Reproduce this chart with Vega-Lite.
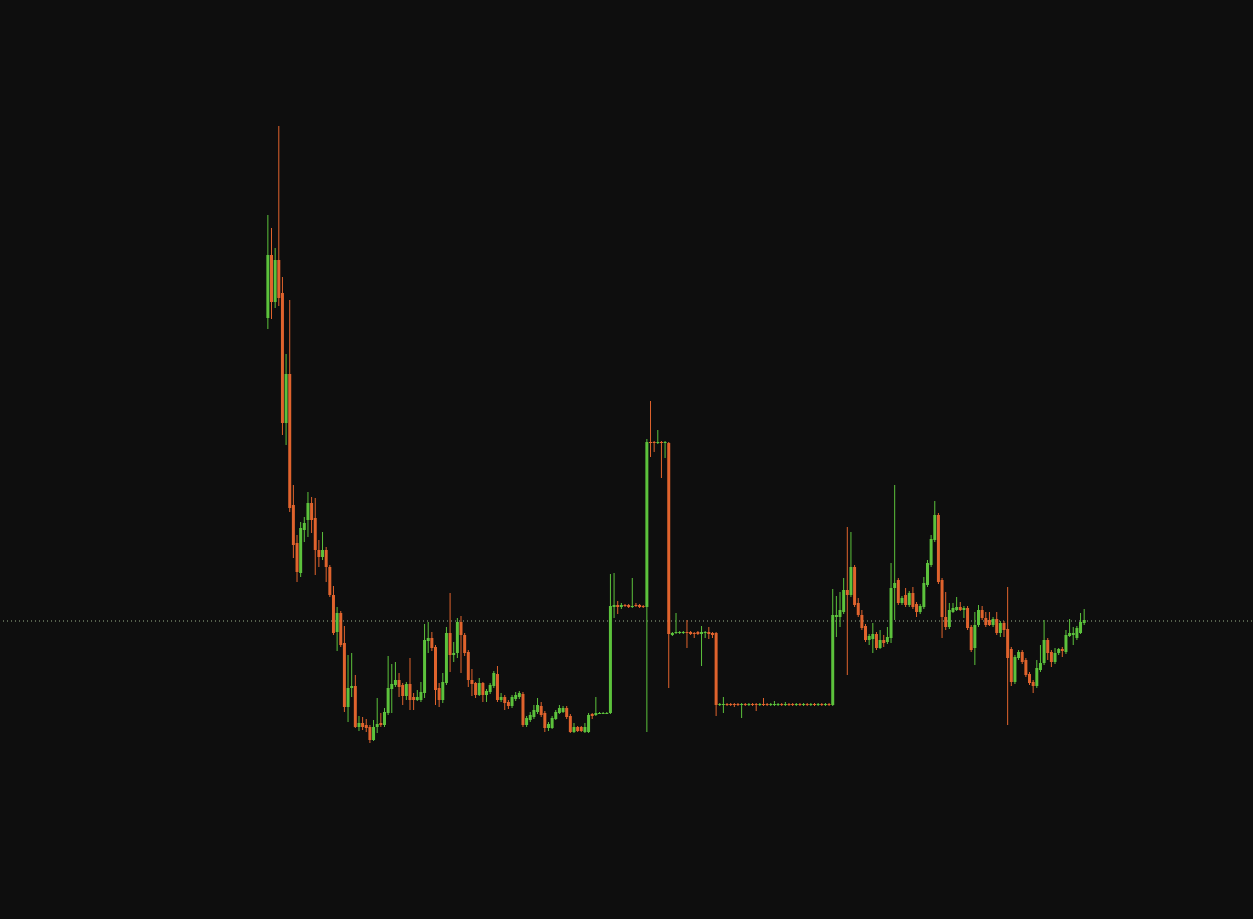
{
"$schema": "https://vega.github.io/schema/vega-lite/v6.json",
"width": 1253, "height": 919,
"autosize": {"type": "fit", "contains": "padding"},
"padding": 0,
"background": "#0e0e0e",
"config": {"view": {"stroke": null}, "scale": {"continuousPadding": 0}},
"datasets": {"candles": [
{"i":0,"o":60.1,"c":66.4,"h":70.4,"l":59.0},
{"i":1,"o":66.4,"c":61.7,"h":69.1,"l":60.0},
{"i":2,"o":61.7,"c":65.9,"h":67.1,"l":61.1},
{"i":3,"o":65.9,"c":62.1,"h":79.3,"l":61.3},
{"i":4,"o":62.6,"c":49.6,"h":64.2,"l":48.4},
{"i":5,"o":49.6,"c":54.5,"h":56.5,"l":47.4},
{"i":6,"o":54.5,"c":41.1,"h":61.9,"l":40.7},
{"i":7,"o":41.4,"c":37.4,"h":43.4,"l":36.1},
{"i":8,"o":37.6,"c":34.7,"h":38.4,"l":33.7},
{"i":9,"o":34.6,"c":39.1,"h":39.7,"l":34.2},
{"i":10,"o":38.9,"c":39.6,"h":40.2,"l":37.7},
{"i":11,"o":39.9,"c":41.6,"h":42.7,"l":38.2},
{"i":12,"o":41.6,"c":39.9,"h":42.2,"l":38.6},
{"i":13,"o":40.1,"c":36.9,"h":42.1,"l":34.4},
{"i":14,"o":36.9,"c":36.2,"h":37.9,"l":35.2},
{"i":15,"o":36.2,"c":36.9,"h":38.7,"l":35.9},
{"i":16,"o":36.9,"c":35.2,"h":37.2,"l":33.7},
{"i":17,"o":35.2,"c":32.4,"h":35.4,"l":32.2},
{"i":18,"o":32.4,"c":28.6,"h":33.3,"l":28.4},
{"i":19,"o":28.7,"c":30.6,"h":31.2,"l":26.8},
{"i":20,"o":30.6,"c":27.4,"h":30.8,"l":27.2},
{"i":21,"o":27.6,"c":21.2,"h":29.3,"l":20.7},
{"i":22,"o":21.2,"c":23.1,"h":26.4,"l":19.7},
{"i":23,"o":23.1,"c":23.3,"h":26.6,"l":22.2},
{"i":24,"o":23.3,"c":19.2,"h":24.4,"l":19.1},
{"i":25,"o":19.2,"c":19.6,"h":20.3,"l":18.8},
{"i":26,"o":19.6,"c":19.2,"h":20.2,"l":18.9},
{"i":27,"o":19.4,"c":19.1,"h":20.0,"l":18.7},
{"i":28,"o":19.2,"c":17.9,"h":19.4,"l":17.6},
{"i":29,"o":17.9,"c":19.2,"h":19.9,"l":17.8},
{"i":30,"o":19.2,"c":19.5,"h":22.1,"l":18.6},
{"i":31,"o":19.6,"c":19.4,"h":20.6,"l":19.2},
{"i":32,"o":19.4,"c":20.7,"h":21.1,"l":19.2},
{"i":33,"o":20.6,"c":23.1,"h":26.3,"l":20.4},
{"i":34,"o":23.0,"c":23.5,"h":25.5,"l":20.6},
{"i":35,"o":23.4,"c":23.9,"h":25.7,"l":23.2},
{"i":36,"o":23.9,"c":23.2,"h":24.6,"l":22.2},
{"i":37,"o":23.4,"c":22.3,"h":23.6,"l":21.4},
{"i":38,"o":22.3,"c":23.5,"h":23.7,"l":21.9},
{"i":39,"o":23.5,"c":21.9,"h":26.1,"l":20.9},
{"i":40,"o":22.2,"c":21.9,"h":22.6,"l":20.9},
{"i":41,"o":21.9,"c":22.2,"h":22.9,"l":21.8},
{"i":42,"o":21.9,"c":22.7,"h":23.7,"l":21.7},
{"i":43,"o":22.6,"c":27.9,"h":29.5,"l":22.1},
{"i":44,"o":27.8,"c":28.1,"h":29.7,"l":26.6},
{"i":45,"o":28.1,"c":27.1,"h":28.7,"l":26.8},
{"i":46,"o":27.2,"c":22.9,"h":27.4,"l":21.4},
{"i":47,"o":23.1,"c":21.9,"h":23.6,"l":21.2},
{"i":48,"o":21.9,"c":23.7,"h":24.6,"l":21.6},
{"i":49,"o":23.6,"c":28.6,"h":29.2,"l":23.4},
{"i":50,"o":28.6,"c":26.4,"h":32.6,"l":24.7},
{"i":51,"o":26.4,"c":26.6,"h":27.7,"l":25.7},
{"i":52,"o":26.6,"c":29.7,"h":30.1,"l":26.1},
{"i":53,"o":29.7,"c":28.4,"h":30.3,"l":24.6},
{"i":54,"o":28.4,"c":26.6,"h":28.6,"l":26.3},
{"i":55,"o":26.7,"c":23.9,"h":26.9,"l":23.2},
{"i":56,"o":23.9,"c":23.5,"h":25.0,"l":22.3},
{"i":57,"o":23.6,"c":22.4,"h":23.7,"l":22.1},
{"i":58,"o":22.4,"c":23.6,"h":24.1,"l":22.3},
{"i":59,"o":23.6,"c":22.4,"h":23.7,"l":21.7},
{"i":60,"o":22.4,"c":22.8,"h":23.0,"l":21.7},
{"i":61,"o":22.7,"c":23.4,"h":23.6,"l":22.5},
{"i":62,"o":23.3,"c":24.6,"h":24.8,"l":23.1},
{"i":63,"o":24.5,"c":21.9,"h":25.3,"l":21.7},
{"i":64,"o":21.9,"c":22.2,"h":22.6,"l":21.7},
{"i":65,"o":22.2,"c":21.6,"h":22.4,"l":20.9},
{"i":66,"o":21.7,"c":21.3,"h":21.9,"l":21.0},
{"i":67,"o":21.3,"c":22.2,"h":22.4,"l":21.1},
{"i":68,"o":22.0,"c":22.4,"h":22.7,"l":21.8},
{"i":69,"o":22.2,"c":22.6,"h":22.8,"l":22.0},
{"i":70,"o":22.5,"c":19.4,"h":22.7,"l":19.2},
{"i":71,"o":19.4,"c":20.1,"h":20.3,"l":19.2},
{"i":72,"o":19.9,"c":20.4,"h":20.7,"l":19.7},
{"i":73,"o":20.2,"c":20.9,"h":21.4,"l":20.0},
{"i":74,"o":20.7,"c":21.4,"h":22.1,"l":20.5},
{"i":75,"o":21.3,"c":20.4,"h":21.7,"l":20.2},
{"i":76,"o":20.6,"c":19.1,"h":20.8,"l":18.7},
{"i":77,"o":19.1,"c":19.5,"h":19.7,"l":18.8},
{"i":78,"o":19.1,"c":20.1,"h":20.3,"l":19.0},
{"i":79,"o":20.0,"c":20.7,"h":20.9,"l":19.9},
{"i":80,"o":20.6,"c":21.1,"h":21.4,"l":20.5},
{"i":81,"o":20.7,"c":21.1,"h":21.3,"l":20.6},
{"i":82,"o":21.1,"c":20.2,"h":21.3,"l":20.0},
{"i":83,"o":20.3,"c":18.7,"h":20.5,"l":18.6},
{"i":84,"o":18.7,"c":19.2,"h":19.6,"l":18.6},
{"i":85,"o":19.2,"c":18.8,"h":19.3,"l":18.7},
{"i":86,"o":19.2,"c":18.8,"h":19.3,"l":18.7},
{"i":87,"o":18.7,"c":19.2,"h":19.6,"l":18.6},
{"i":88,"o":18.7,"c":20.4,"h":20.6,"l":18.6},
{"i":89,"o":20.5,"c":20.3,"h":20.6,"l":20.0},
{"i":90,"o":20.4,"c":20.6,"h":22.2,"l":20.3},
{"i":91,"o":20.5,"c":20.6,"h":20.7,"l":20.5},
{"i":92,"o":20.5,"c":20.6,"h":20.7,"l":20.5},
{"i":93,"o":20.5,"c":20.6,"h":20.7,"l":20.5},
{"i":94,"o":20.6,"c":31.3,"h":34.5,"l":20.5},
{"i":95,"o":31.2,"c":31.4,"h":34.6,"l":30.1},
{"i":96,"o":31.4,"c":31.2,"h":31.8,"l":30.5},
{"i":97,"o":31.2,"c":31.4,"h":31.6,"l":31.0},
{"i":98,"o":31.4,"c":31.3,"h":31.5,"l":31.2},
{"i":99,"o":31.4,"c":31.2,"h":31.5,"l":31.1},
{"i":100,"o":31.2,"c":31.3,"h":34.1,"l":31.1},
{"i":101,"o":31.4,"c":31.3,"h":31.6,"l":31.2},
{"i":102,"o":31.4,"c":31.2,"h":31.5,"l":31.1},
{"i":103,"o":31.3,"c":31.2,"h":31.4,"l":31.1},
{"i":104,"o":31.2,"c":47.7,"h":48.0,"l":18.7},
{"i":105,"o":47.7,"c":47.6,"h":51.8,"l":46.2},
{"i":106,"o":47.7,"c":47.6,"h":47.8,"l":46.7},
{"i":107,"o":47.6,"c":47.7,"h":48.9,"l":47.5},
{"i":108,"o":47.7,"c":47.6,"h":47.8,"l":44.1},
{"i":109,"o":47.6,"c":47.7,"h":47.8,"l":46.1},
{"i":110,"o":47.6,"c":28.5,"h":47.7,"l":23.1},
{"i":111,"o":28.4,"c":28.6,"h":28.7,"l":28.3},
{"i":112,"o":28.6,"c":28.7,"h":30.6,"l":28.5},
{"i":113,"o":28.6,"c":28.7,"h":28.8,"l":28.5},
{"i":114,"o":28.6,"c":28.7,"h":28.8,"l":28.5},
{"i":115,"o":28.7,"c":28.6,"h":29.9,"l":27.1},
{"i":116,"o":28.7,"c":28.5,"h":28.8,"l":28.4},
{"i":117,"o":28.6,"c":28.5,"h":28.7,"l":28.1},
{"i":118,"o":28.7,"c":28.5,"h":28.8,"l":28.4},
{"i":119,"o":28.5,"c":28.7,"h":29.3,"l":25.3},
{"i":120,"o":28.6,"c":28.7,"h":28.8,"l":28.1},
{"i":121,"o":28.7,"c":28.5,"h":29.2,"l":28.0},
{"i":122,"o":28.6,"c":28.4,"h":28.7,"l":28.1},
{"i":123,"o":28.6,"c":21.4,"h":28.7,"l":20.3},
{"i":124,"o":21.4,"c":21.5,"h":21.6,"l":21.3},
{"i":125,"o":21.4,"c":21.5,"h":22.2,"l":20.6},
{"i":126,"o":21.5,"c":21.4,"h":21.6,"l":21.3},
{"i":127,"o":21.5,"c":21.4,"h":21.6,"l":21.3},
{"i":128,"o":21.5,"c":21.4,"h":21.6,"l":21.2},
{"i":129,"o":21.5,"c":21.4,"h":21.6,"l":21.3},
{"i":130,"o":21.4,"c":21.5,"h":21.6,"l":20.1},
{"i":131,"o":21.5,"c":21.4,"h":21.6,"l":21.3},
{"i":132,"o":21.4,"c":21.5,"h":21.6,"l":21.3},
{"i":133,"o":21.5,"c":21.4,"h":21.6,"l":21.3},
{"i":134,"o":21.5,"c":21.4,"h":21.6,"l":20.8},
{"i":135,"o":21.4,"c":21.5,"h":21.6,"l":21.3},
{"i":136,"o":21.5,"c":21.4,"h":22.1,"l":21.3},
{"i":137,"o":21.5,"c":21.4,"h":21.6,"l":21.3},
{"i":138,"o":21.4,"c":21.5,"h":21.6,"l":21.3},
{"i":139,"o":21.4,"c":21.5,"h":21.8,"l":21.3},
{"i":140,"o":21.4,"c":21.5,"h":21.6,"l":21.3},
{"i":141,"o":21.5,"c":21.4,"h":21.6,"l":21.3},
{"i":142,"o":21.4,"c":21.5,"h":21.7,"l":21.3},
{"i":143,"o":21.5,"c":21.4,"h":21.6,"l":21.3},
{"i":144,"o":21.5,"c":21.4,"h":21.6,"l":21.3},
{"i":145,"o":21.4,"c":21.5,"h":21.6,"l":21.3},
{"i":146,"o":21.5,"c":21.4,"h":21.6,"l":21.3},
{"i":147,"o":21.4,"c":21.5,"h":21.6,"l":21.3},
{"i":148,"o":21.5,"c":21.4,"h":21.6,"l":21.3},
{"i":149,"o":21.4,"c":21.5,"h":21.6,"l":21.3},
{"i":150,"o":21.5,"c":21.4,"h":21.6,"l":21.3},
{"i":151,"o":21.4,"c":21.5,"h":21.6,"l":21.3},
{"i":152,"o":21.5,"c":21.4,"h":21.6,"l":21.3},
{"i":153,"o":21.4,"c":21.5,"h":21.6,"l":21.3},
{"i":154,"o":21.5,"c":21.4,"h":21.6,"l":21.3},
{"i":155,"o":21.4,"c":30.4,"h":33.0,"l":21.3},
{"i":156,"o":30.2,"c":30.4,"h":32.3,"l":28.2},
{"i":157,"o":30.2,"c":30.9,"h":32.7,"l":29.2},
{"i":158,"o":30.7,"c":32.9,"h":34.1,"l":30.5},
{"i":159,"o":32.9,"c":32.4,"h":39.2,"l":24.4},
{"i":160,"o":32.4,"c":35.2,"h":38.7,"l":32.2},
{"i":161,"o":35.2,"c":31.4,"h":35.4,"l":31.2},
{"i":162,"o":31.6,"c":30.4,"h":32.1,"l":30.2},
{"i":163,"o":30.4,"c":29.1,"h":30.9,"l":28.9},
{"i":164,"o":29.3,"c":27.9,"h":29.5,"l":27.7},
{"i":165,"o":27.9,"c":28.3,"h":28.5,"l":27.4},
{"i":166,"o":28.0,"c":28.5,"h":29.6,"l":26.6},
{"i":167,"o":28.5,"c":27.1,"h":28.7,"l":26.9},
{"i":168,"o":27.1,"c":27.9,"h":28.9,"l":27.0},
{"i":169,"o":27.9,"c":27.6,"h":28.4,"l":27.2},
{"i":170,"o":27.7,"c":28.2,"h":29.2,"l":27.5},
{"i":171,"o":28.1,"c":33.1,"h":35.6,"l":27.6},
{"i":172,"o":33.1,"c":33.6,"h":43.4,"l":29.9},
{"i":173,"o":33.9,"c":31.6,"h":34.1,"l":31.4},
{"i":174,"o":31.6,"c":32.1,"h":32.3,"l":31.4},
{"i":175,"o":32.4,"c":31.4,"h":33.1,"l":31.2},
{"i":176,"o":31.4,"c":32.6,"h":32.8,"l":31.2},
{"i":177,"o":32.6,"c":31.2,"h":33.2,"l":31.0},
{"i":178,"o":31.5,"c":30.7,"h":31.7,"l":30.2},
{"i":179,"o":30.7,"c":31.3,"h":31.5,"l":30.5},
{"i":180,"o":31.2,"c":33.6,"h":34.2,"l":31.0},
{"i":181,"o":33.4,"c":35.6,"h":35.9,"l":33.2},
{"i":182,"o":35.4,"c":38.0,"h":38.4,"l":35.2},
{"i":183,"o":37.9,"c":40.4,"h":41.8,"l":37.7},
{"i":184,"o":40.4,"c":33.7,"h":40.6,"l":33.5},
{"i":185,"o":33.9,"c":30.2,"h":34.1,"l":28.1},
{"i":186,"o":30.2,"c":29.2,"h":32.7,"l":28.9},
{"i":187,"o":29.2,"c":30.9,"h":31.6,"l":29.0},
{"i":188,"o":30.7,"c":31.1,"h":31.6,"l":30.6},
{"i":189,"o":30.9,"c":31.2,"h":32.2,"l":30.8},
{"i":190,"o":31.2,"c":30.9,"h":31.7,"l":30.8},
{"i":191,"o":30.9,"c":31.1,"h":31.3,"l":30.1},
{"i":192,"o":31.1,"c":29.1,"h":31.3,"l":28.9},
{"i":193,"o":29.2,"c":26.9,"h":29.4,"l":26.7},
{"i":194,"o":27.1,"c":29.4,"h":30.7,"l":25.4},
{"i":195,"o":29.4,"c":30.9,"h":31.4,"l":29.2},
{"i":196,"o":30.9,"c":30.1,"h":31.3,"l":29.9},
{"i":197,"o":30.1,"c":29.4,"h":30.7,"l":29.2},
{"i":198,"o":29.9,"c":29.4,"h":30.7,"l":29.3},
{"i":199,"o":29.4,"c":30.0,"h":30.2,"l":29.2},
{"i":200,"o":30.0,"c":28.6,"h":30.7,"l":28.4},
{"i":201,"o":28.6,"c":29.6,"h":29.8,"l":28.2},
{"i":202,"o":29.6,"c":28.9,"h":29.8,"l":28.2},
{"i":203,"o":29.0,"c":26.1,"h":33.2,"l":19.4},
{"i":204,"o":27.0,"c":23.7,"h":27.2,"l":23.3},
{"i":205,"o":23.7,"c":26.2,"h":26.4,"l":23.5},
{"i":206,"o":26.1,"c":26.7,"h":26.9,"l":25.9},
{"i":207,"o":26.7,"c":25.7,"h":26.9,"l":25.5},
{"i":208,"o":25.9,"c":24.4,"h":26.1,"l":24.2},
{"i":209,"o":24.5,"c":23.6,"h":24.7,"l":23.4},
{"i":210,"o":23.7,"c":23.3,"h":23.9,"l":22.6},
{"i":211,"o":23.3,"c":25.1,"h":25.9,"l":23.1},
{"i":212,"o":24.9,"c":25.6,"h":27.4,"l":24.7},
{"i":213,"o":25.6,"c":27.9,"h":29.9,"l":25.4},
{"i":214,"o":27.9,"c":26.6,"h":28.1,"l":25.9},
{"i":215,"o":26.7,"c":25.7,"h":26.9,"l":25.2},
{"i":216,"o":25.7,"c":26.6,"h":27.1,"l":25.5},
{"i":217,"o":26.6,"c":27.0,"h":27.1,"l":26.4},
{"i":218,"o":27.0,"c":26.8,"h":27.2,"l":26.2},
{"i":219,"o":26.7,"c":28.4,"h":28.9,"l":26.5},
{"i":220,"o":28.3,"c":28.6,"h":30.0,"l":28.2},
{"i":221,"o":28.4,"c":28.6,"h":29.2,"l":27.4},
{"i":222,"o":28.1,"c":29.1,"h":29.3,"l":27.9},
{"i":223,"o":28.6,"c":29.7,"h":30.6,"l":28.5},
{"i":224,"o":29.6,"c":29.9,"h":31.0,"l":29.4}
]},
"data": {"name": "candles"},
"layer": [
{
"data": {"values": [{"price": 29.8}]},
"mark": {"type": "rule", "color": "#9cb38c", "strokeDash": [1, 3], "strokeWidth": 1},
"encoding": {"y": {"field": "price", "type": "quantitative", "scale": {"domain": [0, 91.9], "nice": false, "zero": false, "padding": 0}, "axis": null}}
},
{
"mark": {"type": "rule", "strokeWidth": 1},
"encoding": {
"x": {"field": "i", "type": "quantitative", "scale": {"domain": [-73.23, 270.05], "nice": false, "zero": false, "padding": 0}, "axis": null},
"y": {"field": "l", "type": "quantitative", "scale": {"domain": [0, 91.9], "nice": false, "zero": false, "padding": 0}, "axis": null},
"y2": {"field": "h"},
"color": {"condition": {"test": "datum.c >= datum.o", "value": "#5cc23c"}, "value": "#e0632d"}
}
},
{
"mark": {"type": "bar", "size": 3},
"encoding": {
"x": {"field": "i", "type": "quantitative", "axis": null},
"y": {"field": "o", "type": "quantitative", "axis": null},
"y2": {"field": "c"},
"color": {"condition": {"test": "datum.c >= datum.o", "value": "#5cc23c"}, "value": "#e0632d"}
}
}
]
}
